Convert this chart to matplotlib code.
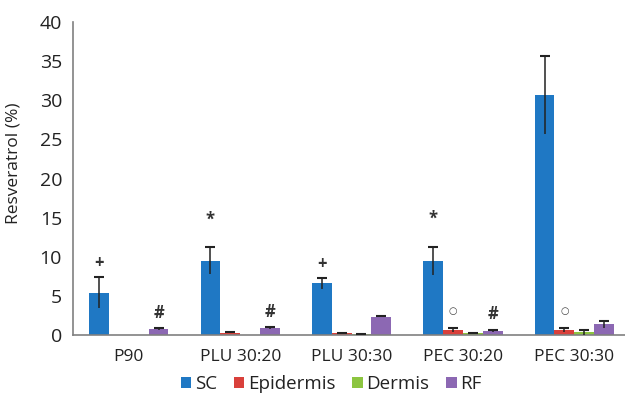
import matplotlib
matplotlib.use("Agg")
import matplotlib.pyplot as plt
import numpy as np

categories = ["P90", "PLU 30:20", "PLU 30:30", "PEC 30:20", "PEC 30:30"]
series = ["SC", "Epidermis", "Dermis", "RF"]
sc = [5.4, 9.5, 6.6, 9.5, 30.7]
sc_err = [2.0, 1.7, 0.7, 1.8, 5.0]
epidermis = [0.0, 0.3, 0.2, 0.65, 0.65]
epidermis_err = [0.0, 0.05, 0.05, 0.3, 0.25]
dermis = [0.0, 0.0, 0.1, 0.2, 0.35]
dermis_err = [0.0, 0.0, 0.03, 0.05, 0.3]
rf = [0.8, 0.9, 2.35, 0.55, 1.35]
rf_err = [0.1, 0.1, 0.05, 0.15, 0.45]
# (category index, series index, symbol)
marks = [(0, 0, "+"), (0, 3, "#"), (1, 0, "*"), (1, 3, "#"), (2, 0, "+"),
         (3, 0, "*"), (3, 1, "o"), (3, 3, "#"), (4, 1, "o")]
yticks = [0, 5, 10, 15, 20, 25, 30, 35, 40]

colors = ["#1f78c4", "#d9403b", "#8cc540", "#8c68b3"]
values = [sc, epidermis, dermis, rf]
errors = [sc_err, epidermis_err, dermis_err, rf_err]

plt.rcParams['font.family'] = ['Open Sans', 'DejaVu Sans']

fig = plt.figure(figsize=(6.25, 4), dpi=100)
ax = fig.add_axes([0.117, 0.1625, 0.891, 0.7825])

x = np.arange(len(categories))
w = 0.178
for i, (name, vals, errs, c) in enumerate(zip(series, values, errors, colors)):
    pos = x + (i - 1.5) * w
    ax.bar(pos, vals, width=w, color=c, label=name, zorder=2)
    v = np.array(vals)
    e = np.array(errs)
    m = v > 0
    ax.vlines(pos[m], v[m] - e[m], v[m] + e[m], color="#222222", lw=1.1, zorder=3)
    ax.plot(pos[m], v[m] + e[m], ls="none", marker="_", ms=7, mew=1.5,
            color="#222222", zorder=3)

offsets = {"+": 10, "#": 11, "*": 20, "o": 12}
for ci, si, sym in marks:
    pos = x[ci] + (si - 1.5) * w
    top = values[si][ci] + errors[si][ci]
    if sym == "o":
        ax.annotate("○", (pos, top), xytext=(0, offsets[sym]), textcoords="offset points",
                    ha="center", va="center", fontsize=7, color="#444444",
                    family=["DejaVu Sans"])
    else:
        ax.annotate(sym, (pos, top), xytext=(0, offsets[sym]), textcoords="offset points",
                    ha="center", va="center", fontsize=12, color="#333333",
                    fontweight="bold")

ax.set_xlim(-0.5, len(categories) - 0.5)
ax.set_ylim(0, 40)
ax.set_yticks(yticks)
ax.set_xticks(x)
ax.set_xticklabels(categories, fontsize=12.5, color="#222222")
ax.tick_params(axis="y", length=0, pad=8, labelsize=14, labelcolor="#222222")
ax.tick_params(axis="x", length=0, pad=10)
for s in ["top", "right"]:
    ax.spines[s].set_visible(False)
for s in ["left", "bottom"]:
    ax.spines[s].set_color("#808080")
    ax.spines[s].set_linewidth(1.2)
ax.set_ylabel("Resveratrol (%)", fontsize=12.5, color="#222222")
ax.yaxis.set_label_coords(-0.092, 0.55)

fig.legend(loc="center", bbox_to_anchor=(0.53, 0.04), ncol=4, frameon=False,
           handlelength=0.55, handleheight=0.55, handletextpad=0.2,
           columnspacing=0.9, fontsize=13.5, labelcolor="#222222")

fig.savefig("out.png", dpi=100)
